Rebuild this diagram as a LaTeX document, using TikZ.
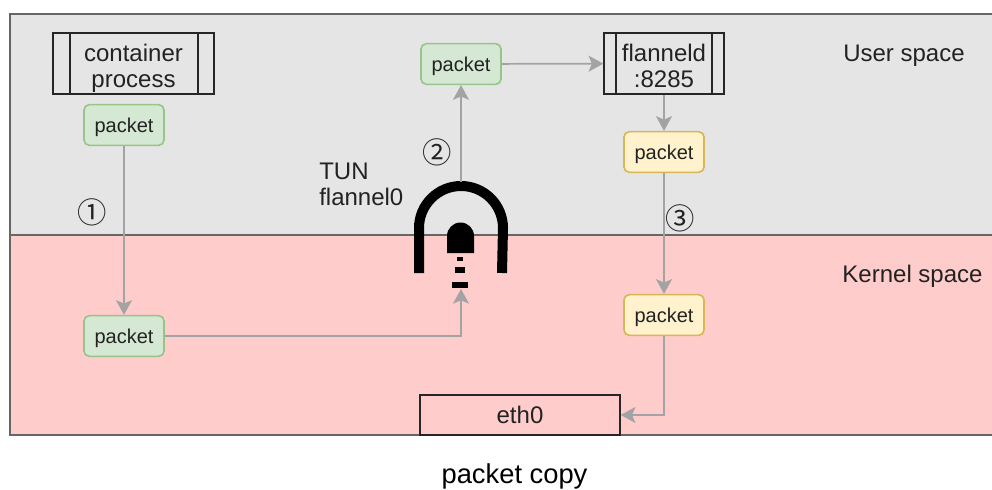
\documentclass[tikz,border=0pt]{standalone}
\usepackage{fontspec}
\setmainfont{Liberation Sans}
\newfontfamily\circfont{Noto Sans CJK SC}
\usetikzlibrary{arrows.meta}
\definecolor{txtc}{HTML}{222222}
\definecolor{linec}{HTML}{A3A3A3}
\definecolor{greenfill}{HTML}{D5E8D4}
\definecolor{greenline}{HTML}{97C48A}
\definecolor{yellowfill}{HTML}{FFF2CC}
\definecolor{yellowline}{HTML}{D6B656}
\colorlet{greyspace}{black!10}
\definecolor{pinkspace}{HTML}{FFCCCC}
\tikzset{
  >={Stealth[length=11pt,width=12pt,inset=2.5pt]},
  lbl/.style = {text=txtc,font=\fontsize{18}{19.5}\selectfont,align=center,inner sep=0pt},
  circ/.style = {text=txtc,font=\fontsize{22}{22}\selectfont\circfont,inner sep=0pt},
  pkt/.style = {draw,line width=1.2pt,rounded corners=4pt,minimum width=60pt,minimum height=30.5pt,
    inner sep=0pt,text=txtc,font=\fontsize{15}{15}\selectfont,text height=14pt,text depth=3.2pt},
  greenpkt/.style = {pkt,draw=greenline,fill=greenfill},
  yellowpkt/.style = {pkt,draw=yellowline,fill=yellowfill},
  procbox/.style = {lbl,draw=black!85,line width=1.1pt,minimum height=45.5pt,text height=39.5pt,text depth=4pt},
  conn/.style = {linec,line width=1.3pt,->}
}
\begin{document}
\begin{tikzpicture}[x=0.75pt,y=-0.75pt]
  \useasboundingbox (0,0) rectangle (992,489);
  \fill[greyspace] (10,14) rectangle (992,235);
  \fill[pinkspace] (10,235) rectangle (992,435);
  \draw[black!60,line width=1.1pt] (992,14) -- (10,14) -- (10,435) -- (992,435);
  \draw[black!60,line width=1.1pt] (10,235) -- (992,235);
  % boxes
  \node[procbox,minimum width=120.75pt] (proc) at (133.5,63.5) {container\\process};
  \draw[black!85,line width=1.1pt] (70,33) -- (70,94);
  \draw[black!85,line width=1.1pt] (198,33) -- (198,94);
  \node[procbox,minimum width=90pt] (flanneld) at (664,63.5) {flanneld\\:8285};
  \draw[black!85,line width=1.1pt] (616,33) -- (616,94);
  \draw[black!85,line width=1.1pt] (712,33) -- (712,94);
  \node[lbl,draw=black!85,line width=1.1pt,minimum width=150pt,minimum height=30pt] (eth) at (520,415) {eth0};
  \node[greenpkt] (pa) at (124,125) {packet};
  \node[greenpkt] (pb) at (124,336) {packet};
  \node[greenpkt] (pc) at (461,64) {packet};
  \node[yellowpkt] (pd) at (664,152) {packet};
  \node[yellowpkt] (pe) at (664,315) {packet};
  % labels
  \node[lbl] (user) at (904,56) {User space};
  \node[lbl] (kernel) at (912.5,276) {Kernel space};
  \node[lbl,align=left,right] (tun) at (319,184.5) {TUN\\flannel0};
  \node[circ] (one) at (92,212) {①};
  \node[circ] (two) at (437,152) {②};
  \node[circ] (three) at (680,218) {③};
  \node[lbl,text=black,font=\fontsize{20.5}{20.5}\selectfont] (copy) at (514.5,476) {packet copy};
  % tunnel
  \draw[black,line width=7.5pt] (419,273) -- (419,228) arc[start angle=180,end angle=360,radius=42] -- (502,273);
  \fill[black] (447,253) -- (447,236) arc[start angle=180,end angle=360,radius=13.5] -- (474,253) -- cycle;
  \fill[black] (457,257) rectangle (463,261);
  \fill[black] (455,267) rectangle (465,273);
  \fill[black] (452,282) rectangle (468,288);
  \coordinate (tuntop) at (461,182);
  \coordinate (tunbot) at (461,289);
  % connectors
  \draw[conn] (pa) -- (pb);
  \draw[conn] (pb) -| (tunbot);
  \draw[conn] (tuntop) -- (pc);
  \draw[conn] (pc) -- (flanneld);
  \draw[conn] (flanneld) -- (pd);
  \draw[conn] (pd) -- (pe);
  \draw[conn] (pe) |- (eth);
\end{tikzpicture}
\end{document}
